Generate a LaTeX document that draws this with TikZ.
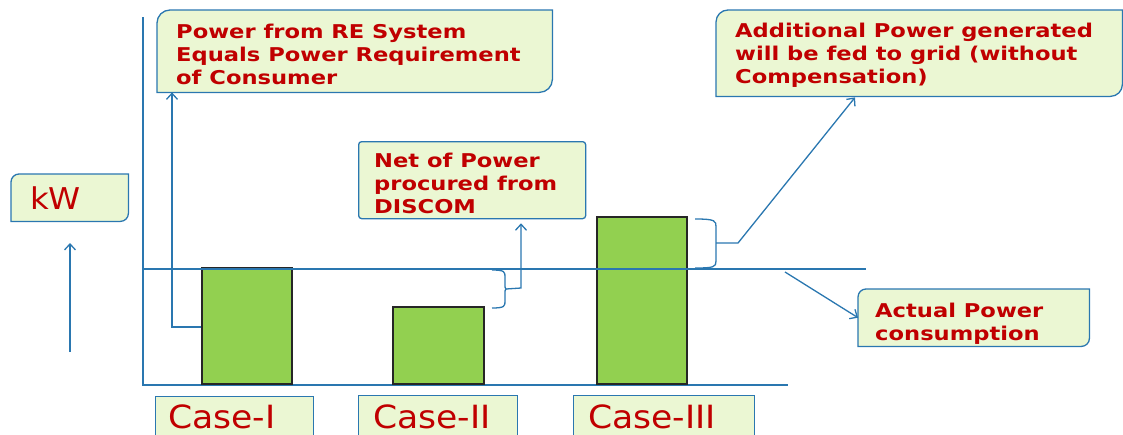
\documentclass[tikz,border=0pt]{standalone}
\usepackage{fontspec}
\setmainfont{DejaVu Sans}
\newfontfamily\vbold[FakeStretch=1.19]{DejaVu Sans Bold}
\newfontfamily\vreg[FakeStretch=1.08]{DejaVu Sans}
\usetikzlibrary{arrows.meta,calc}
\definecolor{ln}{HTML}{2A77B0}
\definecolor{bx}{HTML}{EBF7D3}
\definecolor{tx}{HTML}{C00000}
\definecolor{barc}{HTML}{92D050}
\tikzset{
  lnst/.style={draw=ln, line width=1.3pt},
  arr/.style={lnst, -{Straight Barb[length=6pt,width=11pt,line width=1.3pt]}},
  shell/.style={anchor=north west, inner sep=0pt, draw=none},
  btxt/.style={anchor=north west, inner sep=0pt, align=left, text=tx,
    font=\vbold\fontsize{19}{23}\selectfont},
  rtxt/.style={anchor=north west, inner sep=0pt, align=left, text=tx,
    font=\vreg\fontsize{32}{34}\selectfont},
  casebox/.style={shell, draw=ln, line width=1.3pt, fill=bx},
  barst/.style={anchor=south west, draw=black!85, line width=2pt, fill=barc, inner sep=0pt},
  boxpath/.style={draw=ln, line width=1.3pt, fill=bx},
}
\newcommand\diagbox[2]{%
    \path[boxpath] ($(#1.north west)+(0pt,-#2pt)$) arc[start angle=180,end angle=90,radius=#2pt]
      -- (#1.north east) -- ($(#1.south east)+(0pt,#2pt)$)
      arc[start angle=0,end angle=-90,radius=#2pt] -- (#1.south west) -- cycle;}
\begin{document}
\begin{tikzpicture}[x=1pt,y=-1pt]
\useasboundingbox (0,0) rectangle (1123,434);
\clip (0,0) rectangle (1123,434);
% axes
\coordinate (ytop) at (143,17);
\coordinate (orig) at (143,385);
\coordinate (xend) at (788,385);
\draw[lnst] (ytop) -- (orig) -- (xend);
% bars
\node[barst, minimum width=90pt, minimum height=116pt] (bar1) at (201,385) {};
\node[barst, minimum width=91pt, minimum height=77pt] (bar2) at (392,385) {};
\node[barst, minimum width=90pt, minimum height=167pt] (bar3) at (596,385) {};
% actual consumption level
\coordinate (al0) at (143,269);
\coordinate (al1) at (866,269);
\draw[lnst] (al0) -- (al1);
% text boxes
\node[shell, minimum width=395pt, minimum height=82pt] (b1) at (157,10) {};
\diagbox{b1}{13}
\node[btxt] (b1t) at ($(b1.north west)+(19,14)$)
  {Power from RE System\\Equals Power Requirement\\of Consumer};
\node[shell, minimum width=406pt, minimum height=86pt] (b2) at (716,10) {};
\diagbox{b2}{12}
\node[btxt] (b2t) at ($(b2.north west)+(19,12.5)$)
  {Additional Power generated\\will be fed to grid (without\\Compensation)};
\node[shell, minimum width=227pt, minimum height=77pt, draw=ln, line width=1.3pt,
  fill=bx, rounded corners=3pt] (b3) at (358,141) {};
\node[btxt] (b3t) at ($(b3.north west)+(16,11.5)$)
  {Net of Power\\procured from\\DISCOM};
\node[shell, minimum width=231pt, minimum height=57pt] (b4) at (858,289) {};
\diagbox{b4}{8}
\node[btxt] (b4t) at ($(b4.north west)+(17,13.5)$)
  {Actual Power\\consumption};
\node[shell, minimum width=117pt, minimum height=47pt] (kw) at (11,174) {};
\diagbox{kw}{8}
\node[rtxt, font=\vreg\fontsize{30}{32}\selectfont] (kwt) at ($(kw.north west)+(19,13)$) {kW};
% case labels
\node[casebox, minimum width=158pt, minimum height=50pt] (c1) at (155,396) {};
\node[rtxt] (c1t) at ($(c1.north west)+(13,9)$) {Case-I};
\node[casebox, minimum width=159pt, minimum height=50pt] (c2) at (358,395) {};
\node[rtxt] (c2t) at ($(c2.north west)+(15,10)$) {Case-II};
\node[casebox, minimum width=181pt, minimum height=50pt] (c3) at (573,395) {};
\node[rtxt] (c3t) at ($(c3.north west)+(15,10)$) {Case-III};
% connectors
\coordinate (a1s) at (201,327);
\draw[arr] (a1s) -| ($(b1.south west)+(15,0)$);
\coordinate (kw0) at (70,352);
\coordinate (kw1) at (70,243);
\draw[arr] (kw0) -- (kw1);
% brace II
\coordinate (br2t) at (492,270);
\coordinate (br2b) at (492,308);
\coordinate (br2m) at (506,289);
\draw[lnst] (br2t) .. controls (505,270) and (505,272) .. (505,277) -- (505,283)
  .. controls (505,288) .. (br2m) .. controls (505,290) .. (505,295) -- (505,301)
  .. controls (505,306) and (505,308) .. (br2b);
\draw[arr] (br2m) -- (521,288) -- ($(b3.south west)+(163,4)$);
% brace III
\coordinate (br3t) at (695,219);
\coordinate (br3b) at (695,268);
\coordinate (br3m) at (716,243);
\draw[lnst] (br3t) .. controls (716,219) and (716,221) .. (716,227) -- (716,236)
  .. controls (716,242) .. (br3m) .. controls (716,244) .. (716,250) -- (716,261)
  .. controls (716,267) and (714,268) .. (br3b);
\draw[arr] (br3m) -- (738,243) -- ($(b2.south west)+(139,1)$);
% actual power
\coordinate (ap0) at (785,272);
\draw[arr] (ap0) -- (b4.west);
\end{tikzpicture}
\end{document}
